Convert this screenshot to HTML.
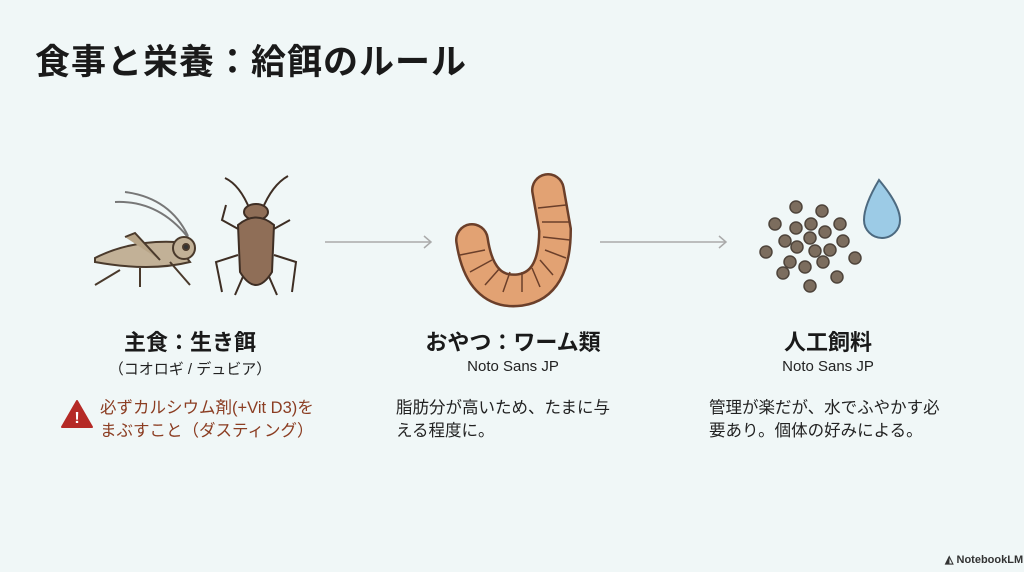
<!DOCTYPE html>
<html><head><meta charset="utf-8"><style>
body{margin:0;width:1024px;height:572px;background:#f0f7f7;position:relative;overflow:hidden;font-family:"Liberation Sans","Noto Sans CJK JP",sans-serif;color:#1a1a1a}
.a{position:absolute;white-space:nowrap}
.h{font-weight:bold;font-size:22px;text-align:center;width:300px}
.s{font-size:15px;text-align:center;width:300px;color:#222}
.d{font-size:16.5px;line-height:23px;color:#222}
</style></head><body>
<div class="a" style="left:35px;top:34px;font-size:35px;font-weight:bold;font-family:'Noto Sans CJK JP',sans-serif;letter-spacing:1px">食事と栄養：給餌のルール</div>

<svg class="a" style="left:0;top:0" width="1024" height="572">
<g stroke="#aaa" stroke-width="1.5" fill="none"><line x1="325" y1="242" x2="431" y2="242"/><polyline points="424,236 431,242 424,248"/>
<line x1="600" y1="242" x2="726" y2="242"/><polyline points="719,236 726,242 719,248"/></g>
<!-- cricket -->
<g stroke="#4a3a2c" stroke-width="2" fill="#c2b197">
<path d="M115 202 Q160 200 190 240" fill="none" stroke="#777"/><path d="M125 192 Q170 198 188 236" fill="none" stroke="#777"/>
<path d="M95 258 Q130 240 175 242 L190 262 Q150 272 95 262 Z"/>
<circle cx="184" cy="248" r="11"/><circle cx="186" cy="247" r="3" fill="#333"/>
<path d="M125 237 L135 233 L160 260" fill="#b7a487"/>
<path d="M120 270 L95 285 M140 268 L140 287 M170 262 L190 285" fill="none"/>
</g>
<!-- cockroach -->
<g stroke="#3e2e24" stroke-width="2" fill="#8f6e57">
<path d="M250 210 Q240 185 225 178 M262 210 Q272 185 288 176" fill="none"/>
<path d="M240 230 L222 220 L226 205 M272 230 L290 220 M238 255 L216 262 L222 292 M274 255 L296 262 L292 292 M245 272 L235 295 M267 272 L277 295" fill="none"/>
<ellipse cx="256" cy="212" rx="12" ry="8"/>
<path d="M238 225 Q256 210 274 225 L272 272 Q256 298 240 272 Z"/>
</g>
<!-- worm -->
<path d="M472 240 Q480 295 520 290 Q555 285 555 230 L548 190" stroke="#6b3f2a" stroke-width="34" fill="none" stroke-linecap="round"/>
<path d="M472 240 Q480 295 520 290 Q555 285 555 230 L548 190" stroke="#e2a273" stroke-width="29" fill="none" stroke-linecap="round"/>
<g stroke="#6b3f2a" stroke-width="1.5" fill="none"><path d="M460 255 L485 250 M470 272 L492 260 M485 285 L500 268 M503 292 L510 272 M522 292 L522 272 M540 287 L532 268 M553 275 L540 260 M566 258 L545 250 M570 240 L543 237 M570 222 L542 222 M566 205 L538 208"/></g>
<!-- pellets -->
<g fill="#7c6d5e" stroke="#4e443b" stroke-width="1.5">
<circle cx="796" cy="207" r="6"/><circle cx="822" cy="211" r="6"/><circle cx="775" cy="224" r="6"/><circle cx="796" cy="228" r="6"/><circle cx="811" cy="224" r="6"/><circle cx="840" cy="224" r="6"/><circle cx="785" cy="241" r="6"/><circle cx="810" cy="238" r="6"/><circle cx="825" cy="232" r="6"/><circle cx="843" cy="241" r="6"/><circle cx="766" cy="252" r="6"/><circle cx="797" cy="247" r="6"/><circle cx="815" cy="251" r="6"/><circle cx="830" cy="250" r="6"/><circle cx="855" cy="258" r="6"/><circle cx="790" cy="262" r="6"/><circle cx="805" cy="267" r="6"/><circle cx="823" cy="262" r="6"/><circle cx="783" cy="273" r="6"/><circle cx="837" cy="277" r="6"/><circle cx="810" cy="286" r="6"/>
</g>
<path d="M879 180 Q900 205 900 220 A18 18 0 0 1 864 220 Q864 205 879 180 Z" fill="#9ccbe6" stroke="#4d6a80" stroke-width="2"/>
<!-- warning -->
<path d="M77 401 L92 427 L62 427 Z" fill="#b52a26" stroke="#b52a26" stroke-width="2" stroke-linejoin="round"/>
<text x="77" y="423" fill="#fff" font-size="16" font-weight="bold" text-anchor="middle" font-family="Liberation Sans">!</text>
</svg>

<div class="a h" style="left:40px;top:325px">主食：生き餌</div>
<div class="a s" style="left:40px;top:358px">（コオロギ / デュビア）</div>
<div class="a d" style="left:100px;top:397px;color:#8b3d22">必ずカルシウム剤(+Vit D3)を<br>まぶすこと（ダスティング）</div>

<div class="a h" style="left:363px;top:325px">おやつ：ワーム類</div>
<div class="a s" style="left:363px;top:358px">Noto Sans JP</div>
<div class="a d" style="left:396px;top:397px">脂肪分が高いため、たまに与<br>える程度に。</div>

<div class="a h" style="left:678px;top:325px">人工飼料</div>
<div class="a s" style="left:678px;top:358px">Noto Sans JP</div>
<div class="a d" style="left:709px;top:397px">管理が楽だが、水でふやかす必<br>要あり。個体の好みによる。</div>

<div class="a" style="left:945px;top:553px;font-size:11px;font-weight:bold;color:#333">◭ NotebookLM</div>
</body></html>
